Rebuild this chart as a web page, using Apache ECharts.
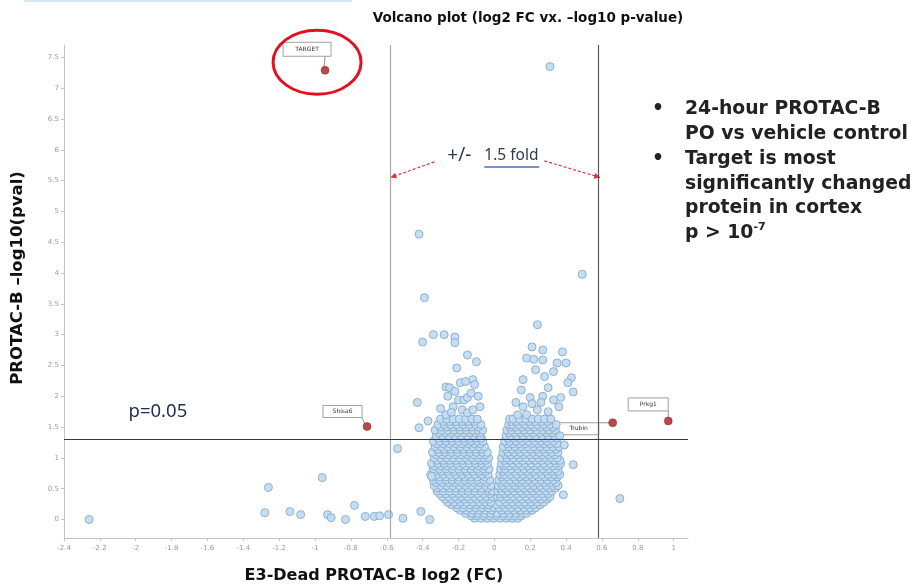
<!DOCTYPE html>
<html>
<head>
<meta charset="utf-8">
<script src="https://cdn.jsdelivr.net/npm/echarts@6.0.0/dist/echarts.min.js"></script>
<style>
html,body{margin:0;padding:0;background:#fff;}
#chart{width:920px;height:584px;}
</style>
</head>
<body>
<div id="chart"></div>
<script>
// ---------------- DATA ----------------
const xTickValues = [-2.4,-2.2,-2,-1.8,-1.6,-1.4,-1.2,-1,-0.8,-0.6,-0.4,-0.2,0,0.2,0.4,0.6,0.8,1];
const yTickValues = [0,0.5,1,1.5,2,2.5,3,3.5,4,4.5,5,5.5,6,6.5,7,7.5];

// dense V-shaped cloud, one row per -log10(p) level: [y, [log2FC values]]
const cloudRows = [
  [0.02, [-0.11,-0.075,-0.04,-0.005,0.03,0.065,0.10,0.13]],
  [0.06, [-0.13,-0.095,-0.06,-0.025,0.012,0.047,0.082,0.117,0.15]],
  [0.10, [-0.16,-0.125,-0.09,-0.055,-0.02,0.015,0.05,0.085,0.12,0.155,0.18]],
  [0.15, [-0.19,-0.155,-0.12,-0.085,-0.05,-0.017,0.04,0.075,0.11,0.145,0.18,0.21]],
  [0.19, [-0.21,-0.175,-0.14,-0.105,-0.07,-0.035,0.0,0.025,0.06,0.095,0.13,0.165,0.20,0.23]],
  [0.24, [-0.24,-0.205,-0.17,-0.135,-0.10,-0.065,-0.035,0.012,0.045,0.08,0.115,0.15,0.185,0.22,0.255]],
  [0.28, [-0.26,-0.225,-0.19,-0.155,-0.12,-0.085,-0.05,-0.02,0.03,0.065,0.10,0.135,0.17,0.205,0.24,0.275]],
  [0.33, [-0.275,-0.24,-0.205,-0.17,-0.135,-0.10,-0.065,-0.03,0.05,0.085,0.12,0.155,0.19,0.225,0.26,0.295]],
  [0.37, [-0.29,-0.255,-0.22,-0.185,-0.15,-0.115,-0.08,-0.045,-0.012,0.018,0.035,0.07,0.105,0.14,0.175,0.21,0.245,0.28,0.31]],
  [0.42, [-0.305,-0.27,-0.235,-0.20,-0.165,-0.13,-0.095,-0.06,-0.025,0.03,0.058,0.09,0.125,0.16,0.195,0.23,0.265,0.30]],
  [0.46, [-0.32,-0.285,-0.25,-0.215,-0.18,-0.145,-0.11,-0.075,-0.035,-0.012,0.02,0.04,0.075,0.11,0.145,0.18,0.215,0.25,0.285,0.32]],
  [0.51, [-0.32,-0.285,-0.25,-0.215,-0.18,-0.145,-0.11,-0.072,-0.035,0.035,0.062,0.097,0.132,0.167,0.202,0.237,0.272,0.307,0.34]],
  [0.55, [-0.335,-0.30,-0.265,-0.23,-0.195,-0.16,-0.125,-0.09,-0.05,-0.018,0.022,0.045,0.08,0.115,0.15,0.185,0.22,0.255,0.29,0.325,0.355]],
  [0.60, [-0.325,-0.29,-0.255,-0.22,-0.185,-0.15,-0.115,-0.08,-0.045,0.038,0.068,0.103,0.138,0.173,0.208,0.243,0.278,0.313,0.345]],
  [0.64, [-0.34,-0.305,-0.27,-0.235,-0.20,-0.165,-0.13,-0.095,-0.06,-0.025,0.025,0.05,0.085,0.12,0.155,0.19,0.225,0.26,0.295,0.33]],
  [0.69, [-0.34,-0.305,-0.27,-0.235,-0.20,-0.165,-0.13,-0.095,-0.055,0.042,0.072,0.107,0.142,0.177,0.212,0.247,0.282,0.317,0.35]],
  [0.73, [-0.355,-0.32,-0.285,-0.25,-0.215,-0.18,-0.145,-0.11,-0.07,-0.035,0.03,0.055,0.09,0.125,0.16,0.195,0.23,0.265,0.30,0.335,0.365]],
  [0.78, [-0.33,-0.295,-0.26,-0.225,-0.19,-0.155,-0.12,-0.085,-0.05,0.048,0.078,0.113,0.148,0.183,0.218,0.253,0.288,0.323,0.355]],
  [0.82, [-0.34,-0.305,-0.27,-0.235,-0.20,-0.165,-0.13,-0.095,-0.06,-0.03,0.035,0.06,0.095,0.13,0.165,0.20,0.235,0.27,0.305,0.34]],
  [0.87, [-0.335,-0.30,-0.265,-0.23,-0.195,-0.16,-0.125,-0.09,-0.055,0.052,0.083,0.118,0.153,0.188,0.223,0.258,0.293,0.328,0.36]],
  [0.91, [-0.35,-0.315,-0.28,-0.245,-0.21,-0.175,-0.14,-0.105,-0.07,-0.038,0.04,0.065,0.10,0.135,0.17,0.205,0.24,0.275,0.31,0.345,0.37]],
  [0.96, [-0.32,-0.285,-0.25,-0.215,-0.18,-0.145,-0.11,-0.075,-0.048,0.057,0.088,0.123,0.158,0.193,0.228,0.263,0.298,0.333,0.365]],
  [1.00, [-0.335,-0.30,-0.265,-0.23,-0.195,-0.16,-0.125,-0.09,-0.06,-0.032,0.04,0.07,0.105,0.14,0.175,0.21,0.245,0.28,0.315,0.35]],
  [1.05, [-0.325,-0.29,-0.255,-0.22,-0.185,-0.15,-0.115,-0.08,-0.052,0.062,0.093,0.128,0.163,0.198,0.233,0.268,0.303,0.338]],
  [1.09, [-0.345,-0.31,-0.275,-0.24,-0.205,-0.17,-0.135,-0.10,-0.065,-0.04,0.048,0.075,0.11,0.145,0.18,0.215,0.25,0.285,0.32,0.355]],
  [1.14, [-0.315,-0.28,-0.245,-0.21,-0.175,-0.14,-0.105,-0.07,0.065,0.098,0.133,0.168,0.203,0.238,0.273,0.308,0.343]],
  [1.18, [-0.33,-0.295,-0.26,-0.225,-0.19,-0.155,-0.12,-0.085,-0.055,0.05,0.08,0.115,0.15,0.185,0.22,0.255,0.29,0.325,0.36]],
  [1.23, [-0.32,-0.285,-0.25,-0.215,-0.18,-0.145,-0.11,-0.078,0.072,0.103,0.138,0.173,0.208,0.243,0.278,0.313,0.348]],
  [1.27, [-0.34,-0.305,-0.27,-0.235,-0.20,-0.165,-0.13,-0.095,-0.065,0.058,0.085,0.12,0.155,0.19,0.225,0.26,0.295,0.33]],
  [1.32, [-0.31,-0.275,-0.24,-0.205,-0.17,-0.135,-0.10,-0.072,0.078,0.108,0.143,0.178,0.213,0.248,0.283,0.318,0.35]],
  [1.36, [-0.325,-0.29,-0.255,-0.22,-0.185,-0.15,-0.115,-0.08,0.065,0.09,0.125,0.16,0.195,0.23,0.265,0.30,0.335,0.365]],
  [1.41, [-0.31,-0.275,-0.24,-0.205,-0.17,-0.135,-0.105,-0.078,0.082,0.113,0.148,0.183,0.218,0.253,0.288,0.323]],
  [1.45, [-0.33,-0.295,-0.26,-0.225,-0.19,-0.155,-0.12,-0.09,-0.065,0.07,0.095,0.13,0.165,0.20,0.235,0.27,0.305,0.34]],
  [1.50, [-0.30,-0.265,-0.23,-0.195,-0.16,-0.125,-0.09,0.09,0.118,0.153,0.188,0.223,0.258,0.293,0.328]],
  [1.54, [-0.315,-0.28,-0.245,-0.21,-0.175,-0.14,-0.105,-0.075,0.08,0.10,0.135,0.17,0.205,0.24,0.275,0.31,0.345]],
  [1.59, [-0.285,-0.25,-0.215,-0.18,-0.145,-0.11,0.095,0.123,0.158,0.193,0.228,0.263,0.298]],
  [1.63, [-0.30,-0.265,-0.23,-0.195,-0.16,-0.125,-0.095,0.085,0.105,0.14,0.175,0.21,0.245,0.28,0.315]]
];

// scattered proteins outside the dense core: [log2FC, -log10 p]
const sparsePoints = [
  [-0.40,2.88],[-0.34,3.0],[-0.28,3.0],[-0.22,2.96],[-0.22,2.87],[-0.15,2.67],[-0.10,2.56],[-0.21,2.46],[-0.43,1.9],
  [-0.27,2.15],[-0.26,2.0],[-0.19,2.22],[-0.16,2.24],[-0.12,2.27],[-0.11,2.19],[-0.23,1.83],[-0.20,1.94],[-0.17,1.94],
  [-0.15,1.98],[-0.18,1.78],[-0.15,1.73],[-0.12,1.78],[-0.08,1.83],[-0.27,1.70],[-0.25,2.14],[-0.30,1.80],[-0.22,2.08],
  [-0.13,2.05],[-0.09,2.0],[-0.24,1.74],
  [0.24,3.16],[0.21,2.8],[0.27,2.75],[0.38,2.72],[0.18,2.62],[0.27,2.59],[0.35,2.54],[0.40,2.54],[0.23,2.43],[0.28,2.32],
  [0.16,2.27],[0.43,2.30],[0.15,2.1],[0.20,1.98],[0.27,2.0],[0.30,2.14],[0.33,1.94],[0.37,1.98],[0.41,2.22],[0.44,2.07],
  [0.16,1.83],[0.24,1.78],[0.30,1.75],[0.36,1.83],[0.13,1.7],[0.18,1.7],[0.21,1.88],[0.26,1.9],[0.12,1.9],[0.33,2.4],[0.22,2.6],
  [0.31,7.35],[-0.42,4.63],[0.49,3.98],[-0.39,3.6],[0.70,0.34],
  [-0.41,0.13],[-0.54,1.15],[-0.42,1.49],[-0.37,1.6],[0.44,0.89],[0.39,1.21],[0.385,0.40],[-0.36,0.0],[-0.35,0.7],
  [-2.26,0.0],[-1.26,0.52],[-1.28,0.11],[-1.14,0.13],[-1.08,0.08],[-0.96,0.68],[-0.93,0.08],[-0.91,0.03],[-0.83,0.0],
  [-0.78,0.23],[-0.72,0.05],[-0.67,0.05],[-0.64,0.06],[-0.59,0.08],[-0.51,0.02]
];

// highlighted proteins
const hitNames = ['TARGET','Shisa6','Trubin','Prkg1'];
const hitFC    = [-0.944, -0.71, 0.66, 0.97];
const hitP     = [7.29, 1.51, 1.57, 1.60];

const foldCut = 0.585;   // log2(1.5)
const pCut = 1.301;      // -log10(0.05)

// ---------------- CHART ----------------
const cloud = [];
cloudRows.forEach(r => r[1].forEach(x => cloud.push([x, r[0]])));
const allPoints = cloud.concat(sparsePoints);
const hits = hitNames.map((n,i) => ({name:n, value:[hitFC[i], hitP[i]]}));

const chart = echarts.init(document.getElementById('chart'), null, {renderer:'canvas'});
const axisGrey = '#c4c4c4';
const labelGrey = '#9a9a9a';

const option = {
  animation:false,
  backgroundColor:'#ffffff',
  grid:{left:64, right:232, top:45, bottom:46, containLabel:false},
  xAxis:{
    type:'value', min:-2.4, max:1.08,
    splitLine:{show:false},
    axisLine:{onZero:false, lineStyle:{color:axisGrey}},
    axisTick:{show:true, length:3, lineStyle:{color:axisGrey}, customValues:xTickValues},
    axisLabel:{fontSize:7, color:labelGrey, margin:7, customValues:xTickValues,
      fontFamily:'DejaVu Sans'}
  },
  yAxis:{
    type:'value', min:-0.3, max:7.7,
    splitLine:{show:false},
    axisLine:{show:true, onZero:false, lineStyle:{color:axisGrey}},
    axisTick:{show:true, length:3, lineStyle:{color:axisGrey}, customValues:yTickValues},
    axisLabel:{fontSize:7, color:labelGrey, margin:5, customValues:yTickValues,
      fontFamily:'DejaVu Sans'}
  },
  series:[
    {
      type:'scatter', name:'proteins', data:allPoints, symbolSize:8,
      itemStyle:{color:'#c4dcf0', borderColor:'#86add2', borderWidth:1, opacity:0.95},
      z:2,
      markLine:{
        silent:true, symbol:['none','none'], z:5,
        label:{show:false},
        data:[
          {xAxis:-foldCut, lineStyle:{color:'#a8a8a8', width:1.2, type:'solid'}},
          {xAxis:foldCut, lineStyle:{color:'#5a5a5a', width:1.2, type:'solid'}},
          {yAxis:pCut, lineStyle:{color:'#3c3c3c', width:1.2, type:'solid'}}
        ]
      }
    },
    {
      type:'scatter', name:'hits', data:hits, symbolSize:8, z:10,
      itemStyle:{color:'#a51b1f', borderColor:'#8a1216', borderWidth:0.5}
    }
  ]
};
chart.setOption(option);

function drawAnnotations(){
  const P = v => chart.convertToPixel({gridIndex:0}, v);
  const g = [];
  // thin light-blue strip at top-left
  g.push({type:'rect', shape:{x:24,y:0,width:328,height:2}, style:{fill:'#d3e8f4'}});
  // title
  g.push({type:'text', x:528, y:18, style:{text:'Volcano plot (log2 FC vx. \u2013log10 p-value)',
    font:'bold 13.5px "DejaVu Sans"', fill:'#111', align:'center', verticalAlign:'middle'}});
  // axis names
  g.push({type:'text', x:374, y:576, style:{text:'E3-Dead PROTAC-B log2 (FC)',
    font:'bold 16px "DejaVu Sans"', fill:'#111', align:'center', verticalAlign:'middle'}});
  g.push({type:'text', x:18, y:278, rotation:Math.PI/2, style:{text:'PROTAC-B \u2013log10(pval)',
    font:'bold 16.5px "DejaVu Sans"', fill:'#111', align:'center', verticalAlign:'middle'}});
  // bullets
  const bf = 'bold 18.8px "DejaVu Sans"';
  const lines = [
    ['\u2022', '24-hour PROTAC-B', 109],
    ['', 'PO vs vehicle control', 134],
    ['\u2022', 'Target is most', 159],
    ['', 'significantly changed', 184],
    ['', 'protein in cortex', 208]
  ];
  lines.forEach(l => {
    if (l[0]) g.push({type:'text', x:652, y:l[2], style:{text:l[0], font:bf, fill:'#222', align:'left', verticalAlign:'middle'}});
    g.push({type:'text', x:685, y:l[2], style:{text:l[1], font:bf, fill:'#222', align:'left', verticalAlign:'middle'}});
  });
  g.push({type:'text', x:685, y:233, style:{text:'{a|p > 10}{s|-7}',
    align:'left', verticalAlign:'middle',
    rich:{a:{font:bf, fill:'#222'}, s:{font:'bold 11px "DejaVu Sans"', fill:'#222', verticalAlign:'top', padding:[0,0,11,0]}}}});

  // p=0.05
  const pp = P([-2.04, 1.75]);
  g.push({type:'text', x:pp[0], y:pp[1], style:{text:'p=0.05', font:'18.5px "Noto Sans"', fill:'#1f2d52', align:'left', verticalAlign:'middle'}});

  // +/- 1.5 fold with arrows
  const tl = P([-foldCut, 5.55]);
  const tr = P([foldCut, 5.55]);
  const c0 = P([0, 5.9]);
  g.push({type:'text', x:c0[0]-23, y:c0[1], style:{text:'+/-', font:'19px "Noto Sans"', fill:'#2f3a55', align:'right', verticalAlign:'middle'}});
  g.push({type:'text', x:c0[0]-10, y:c0[1], style:{text:'1.5 fold', font:'15.5px "Noto Sans"', fill:'#2f3a55', align:'left', verticalAlign:'middle'}});
  g.push({type:'line', shape:{x1:c0[0]-10, y1:c0[1]+11, x2:c0[0]+45, y2:c0[1]+11}, style:{stroke:'#4a6fb5', lineWidth:1.5}});
  const arrow = (x1,y1,x2,y2) => {
    g.push({type:'line', shape:{x1,y1,x2,y2}, style:{stroke:'#e0323c', lineWidth:1.2, lineDash:[3,2]}});
    const a = Math.atan2(y2-y1, x2-x1), L = 6, W = 3;
    const bx = x2 - L*Math.cos(a), by = y2 - L*Math.sin(a);
    g.push({type:'polygon', shape:{points:[[x2,y2],[bx+W*Math.sin(a),by-W*Math.cos(a)],[bx-W*Math.sin(a),by+W*Math.cos(a)]]},
      style:{fill:'#e0323c'}});
  };
  arrow(c0[0]-60, c0[1]+6, tl[0]+1, tl[1]);
  arrow(c0[0]+50, c0[1]+5, tr[0]+1, tr[1]);

  // label boxes of highlighted proteins: [dx, dy, w, h, line]
  const boxes = [
    [-42,-28,48,14,'bottom'],
    [-44,-21,39,12,'corner'],
    [-54,0,40,12,'right'],
    [-40,-23,40,13,'vert']
  ];
  hitNames.forEach((n,i) => {
    const p = P([hitFC[i], hitP[i]]);
    const b = boxes[i];
    const x = p[0]+b[0], y = p[1]+b[1];
    let l;
    if (b[4]==='bottom') l = [x+b[2]-6, y+b[3], p[0]-1, p[1]-3];
    else if (b[4]==='corner') l = [x+b[2], y+b[3], p[0]-2, p[1]-2];
    else if (b[4]==='right') l = [x+b[2], y, p[0]-3, p[1]];
    else l = [x+b[2], y+b[3], p[0], p[1]-3];
    g.push({type:'line', shape:{x1:l[0],y1:l[1],x2:l[2],y2:l[3]}, style:{stroke:'#666', lineWidth:0.7}});
    g.push({type:'rect', shape:{x:x,y:y,width:b[2],height:b[3]}, style:{fill:'#fff', stroke:'#888', lineWidth:0.8}});
    g.push({type:'text', x:x+b[2]/2, y:y+b[3]/2, style:{text:n, font:'6px "DejaVu Sans"', fill:'#333', align:'center', verticalAlign:'middle'}});
  });
  // red ellipse around TARGET
  const t = P([hitFC[0], hitP[0]]);
  g.push({type:'ellipse', shape:{cx:t[0]-8, cy:t[1]-8, rx:44, ry:32}, style:{fill:'none', stroke:'#e3101e', lineWidth:3}, z:20});

  chart.setOption({graphic:{elements:g}});
}
drawAnnotations();
</script>
</body>
</html>
